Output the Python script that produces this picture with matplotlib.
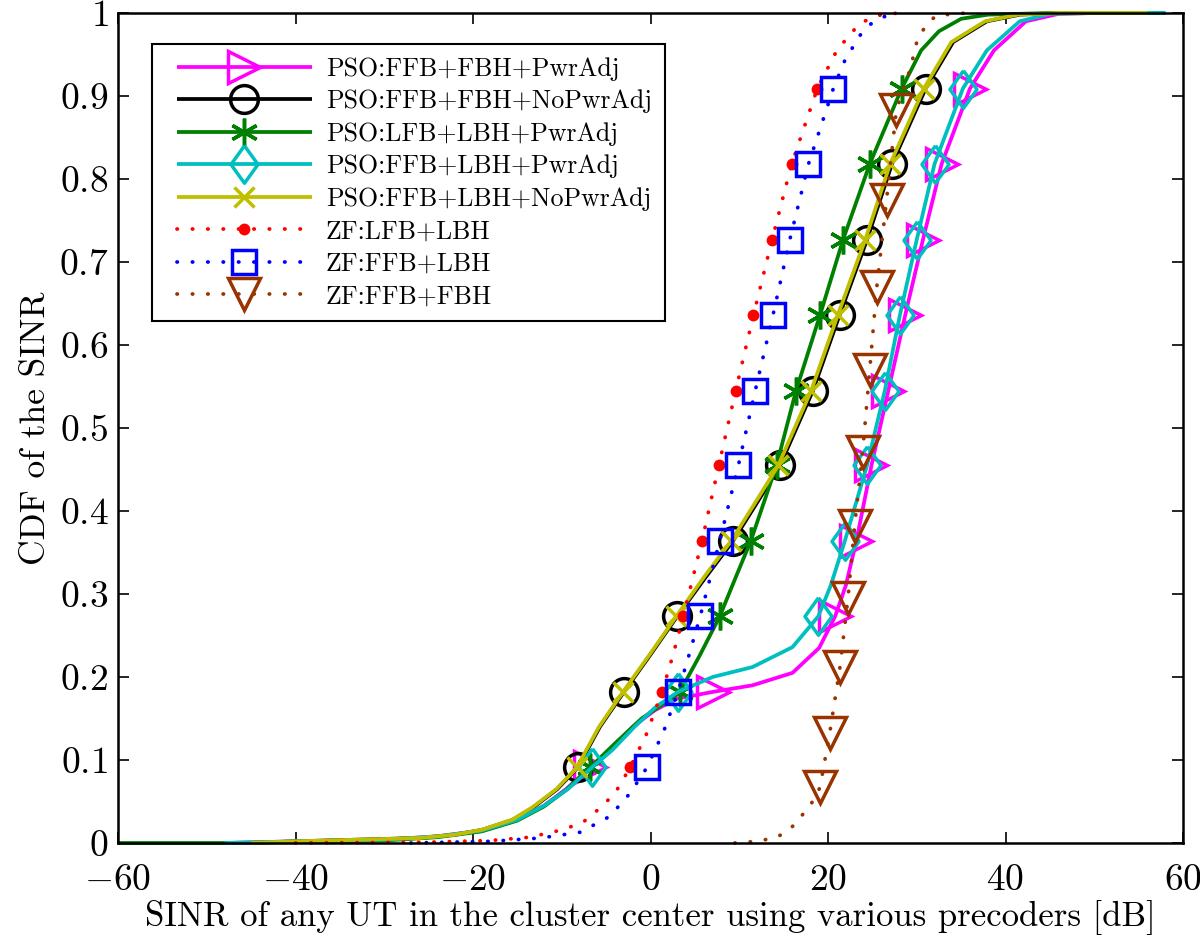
import matplotlib
matplotlib.use("Agg")
import matplotlib.pyplot as plt
from matplotlib.ticker import FuncFormatter
from matplotlib.legend_handler import HandlerLine2D
from matplotlib.lines import Line2D

plt.rcParams['font.family'] = ['cmr10', 'DejaVu Serif']
plt.rcParams['mathtext.fontset'] = 'cm'
plt.rcParams['axes.unicode_minus'] = False

# CDF levels where the PSO / ZF markers sit
Y_MARK = [0.091, 0.182, 0.273, 0.364, 0.455, 0.545, 0.636, 0.727, 0.818, 0.909]

labels = ["PSO:FFB+FBH+PwrAdj", "PSO:FFB+FBH+NoPwrAdj", "PSO:LFB+LBH+PwrAdj",
          "PSO:FFB+LBH+PwrAdj", "PSO:FFB+LBH+NoPwrAdj", "ZF:LFB+LBH",
          "ZF:FFB+LBH", "ZF:FFB+FBH"]

x_pso_ffb_fbh_pa = [-48, -40, -30, -24, -19, -15, -12, -9.5, -6.8, -4.5, -2, 0.5, 3, 7, 11.5, 16, 19,
                    20.8, 22, 23.2, 24.9, 26.8, 28.7, 30.7, 32.8, 36, 38.7, 42.3, 46, 50, 58]
y_pso_ffb_fbh_pa = [0, 0.002, 0.004, 0.008, 0.015, 0.028, 0.045, 0.065, 0.091, 0.112, 0.14, 0.16, 0.174,
                    0.182, 0.19, 0.205, 0.235, 0.273, 0.31, 0.364, 0.455, 0.545, 0.636, 0.727, 0.818,
                    0.909, 0.955, 0.99, 0.999, 1, 1]

x_pso_ffb_fbh_nopa = [-45, -40, -33, -26, -22, -18.9, -15.5, -13.2, -10.5, -8.2, -5.7, -3.0, 0, 3.0, 6.2,
                      9.3, 12, 14.6, 18.3, 21.3, 24.4, 27.2, 31.0, 34.1, 37.9, 41.6, 46, 50, 56]
y_pso_ffb_fbh_nopa = [0, 0.002, 0.004, 0.006, 0.01, 0.016, 0.028, 0.043, 0.065, 0.091, 0.14, 0.182, 0.227,
                      0.273, 0.32, 0.364, 0.41, 0.455, 0.545, 0.636, 0.727, 0.818, 0.909, 0.965, 0.99,
                      0.998, 1, 1, 1]

x_pso_lfb_lbh_pa = [-60, -48, -40, -30, -24, -19, -15, -12, -9.5, -6.8, -4, -1, 1.5, 3.3, 5.5, 7.8, 9.6,
                    11.3, 14.2, 16.4, 19.1, 21.7, 24.7, 28.3, 30.5, 32.5, 35, 38, 45, 58]
y_pso_lfb_lbh_pa = [0, 0, 0.001, 0.003, 0.007, 0.014, 0.027, 0.044, 0.064, 0.091, 0.12, 0.15, 0.168,
                    0.182, 0.225, 0.273, 0.32, 0.364, 0.455, 0.545, 0.636, 0.727, 0.818, 0.909, 0.955,
                    0.978, 0.993, 0.998, 1, 1]

x_pso_ffb_lbh_pa = [-48, -40, -30, -24, -19, -15, -12, -9.3, -6.6, -4.3, -1.8, 0.6, 3.1, 7, 11.5, 16,
                    18.9, 20.3, 21.9, 24.4, 26.4, 28.1, 30.0, 32.0, 35.2, 37.9, 41.6, 45, 50, 58]
y_pso_ffb_lbh_pa = [0, 0.002, 0.004, 0.008, 0.015, 0.028, 0.045, 0.065, 0.091, 0.112, 0.14, 0.164, 0.182,
                    0.2, 0.212, 0.236, 0.273, 0.31, 0.364, 0.455, 0.545, 0.636, 0.727, 0.818, 0.909,
                    0.955, 0.99, 0.999, 1, 1]

x_pso_ffb_lbh_nopa = [-45, -40, -33, -26, -22, -19, -15.6, -13.3, -10.6, -8.3, -5.8, -3.1, -0.1, 2.9, 6.0,
                      9.1, 11.8, 14.4, 18.1, 21.1, 24.2, 27.0, 30.8, 33.9, 37.7, 41.4, 46, 50, 56]
y_pso_ffb_lbh_nopa = [0, 0.002, 0.004, 0.006, 0.01, 0.016, 0.028, 0.043, 0.065, 0.091, 0.14, 0.182, 0.227,
                      0.273, 0.32, 0.364, 0.41, 0.455, 0.545, 0.636, 0.727, 0.818, 0.909, 0.965, 0.99,
                      0.998, 1, 1, 1]

x_zf_lfb_lbh = [-40, -25, -18, -13.6, -9.9, -7.6, -5.7, -4, -2.3, -0.5, 1.3, 2.5, 3.7, 5.8, 7.7, 9.6,
                11.6, 13.7, 15.9, 18.8, 21, 23.6, 26, 28]
y_zf_lfb_lbh = [0, 0.001, 0.003, 0.007, 0.016, 0.025, 0.042, 0.06, 0.091, 0.13, 0.182, 0.225, 0.273,
                0.364, 0.455, 0.545, 0.636, 0.727, 0.818, 0.909, 0.955, 0.988, 0.998, 1.0]

x_zf_ffb_lbh = [-27, -18, -12.4, -7.9, -4.6, -2.3, -0.4, 1.5, 3.1, 4.3, 5.6, 7.8, 9.9, 11.8, 13.8, 15.7,
                17.8, 20.6, 21.9, 23.6, 24.7, 26.6, 28]
y_zf_ffb_lbh = [0, 0.002, 0.006, 0.013, 0.032, 0.06, 0.091, 0.135, 0.182, 0.225, 0.273, 0.364, 0.455,
                0.545, 0.636, 0.727, 0.818, 0.909, 0.943, 0.973, 0.986, 0.997, 1.0]

x_zf_ffb_fbh = [9.5, 12, 14.3, 16, 16.8, 18, 19.1, 20.2, 21.35, 22.25, 23.0, 23.9, 24.7, 25.5, 26.6,
                27.7, 29.3, 30.0, 31, 32.2, 35.6]
y_zf_ffb_fbh = [0, 0.002, 0.007, 0.02, 0.03, 0.045, 0.067, 0.133, 0.212, 0.295, 0.382, 0.471, 0.57,
                0.67, 0.775, 0.883, 0.934, 0.965, 0.985, 0.997, 1.0]
mk_zf_ffb_fbh = [6, 7, 8, 9, 10, 11, 12, 13, 14, 15]

x_ticks = [-60, -40, -20, 0, 20, 40, 60]
y_ticks = [0, 0.1, 0.2, 0.3, 0.4, 0.5, 0.6, 0.7, 0.8, 0.9, 1]


def at_levels(y):
    return [i for i, v in enumerate(y) if v in Y_MARK]


diamond = [(0, 1), (0.72, 0), (0, -1), (-0.72, 0), (0, 1)]
dot = (0, (0.1, 4.0))
LW = 2.7
MEW = 2.5

series = [
    (x_pso_ffb_fbh_pa, y_pso_ffb_fbh_pa, at_levels(y_pso_ffb_fbh_pa),
     dict(color='#ff00ff', ls='-', marker='>', ms=23, mfc='none')),
    (x_pso_ffb_fbh_nopa, y_pso_ffb_fbh_nopa, at_levels(y_pso_ffb_fbh_nopa),
     dict(color='black', ls='-', marker='o', ms=20, mfc='none')),
    (x_pso_lfb_lbh_pa, y_pso_lfb_lbh_pa, at_levels(y_pso_lfb_lbh_pa),
     dict(color='#008000', ls='-', marker=(6, 2, 0), ms=20, mfc='none')),
    (x_pso_ffb_lbh_pa, y_pso_ffb_lbh_pa, at_levels(y_pso_ffb_lbh_pa),
     dict(color='#00bfbf', ls='-', marker=diamond, ms=27, mfc='none')),
    (x_pso_ffb_lbh_nopa, y_pso_ffb_lbh_nopa, at_levels(y_pso_ffb_lbh_nopa),
     dict(color='#bfbf00', ls='-', marker='x', ms=15, mfc='none')),
    (x_zf_lfb_lbh, y_zf_lfb_lbh, at_levels(y_zf_lfb_lbh),
     dict(color='#ff0000', ls=dot, marker='o', ms=8.5, mfc='#ff0000', mew=0)),
    (x_zf_ffb_lbh, y_zf_ffb_lbh, at_levels(y_zf_ffb_lbh),
     dict(color='#0000ff', ls=dot, marker='s', ms=17, mfc='none')),
    (x_zf_ffb_fbh, y_zf_ffb_fbh, mk_zf_ffb_fbh,
     dict(color='#993300', ls=dot, marker='v', ms=23, mfc='none')),
]

fig = plt.figure(figsize=(12, 9.39), dpi=100)
ax = fig.add_axes([118 / 1200, 1 - 843 / 939, 1065 / 1200, 830 / 939])

for (xs, ys, mk, st), lab in zip(series, labels):
    kw = dict(lw=LW, mew=MEW, dash_capstyle='round', solid_capstyle='butt')
    kw.update(st)
    ax.plot(xs, ys, label=lab, markevery=mk, clip_on=False, **kw)

ax.set_xlim(-60, 60)
ax.set_ylim(0, 1)
ax.set_xticks(x_ticks)
ax.set_yticks(y_ticks)
ax.xaxis.set_major_formatter(FuncFormatter(lambda v, p: r'$%g$' % v))
ax.yaxis.set_major_formatter(FuncFormatter(lambda v, p: r'$%g$' % v))
ax.tick_params(direction='in', top=True, right=True, length=8, width=1.2,
               labelsize=27)
ax.tick_params(axis='y', pad=7)
ax.tick_params(axis='x', pad=15)
for s in ax.spines.values():
    s.set_linewidth(1.8)

ax.set_xlabel("SINR of any UT in the cluster center using various precoders [dB]",
              fontsize=25, labelpad=2)
ax.set_ylabel("CDF of the SINR", fontsize=25.5, labelpad=5)

FS = 18.6
leg = ax.legend(loc='upper left', bbox_to_anchor=((152 - 118) / 1065, (843 - 44) / 830),
                borderaxespad=0, fontsize=FS, numpoints=1, handlelength=5.68,
                handletextpad=0.55, labelspacing=0.34, borderpad=0.5,
                fancybox=False, framealpha=1, edgecolor='black',
                handler_map={Line2D: HandlerLine2D(xpad=0.45)})
leg.get_frame().set_linewidth(1.5)

fig.savefig("out.png", dpi=100)
